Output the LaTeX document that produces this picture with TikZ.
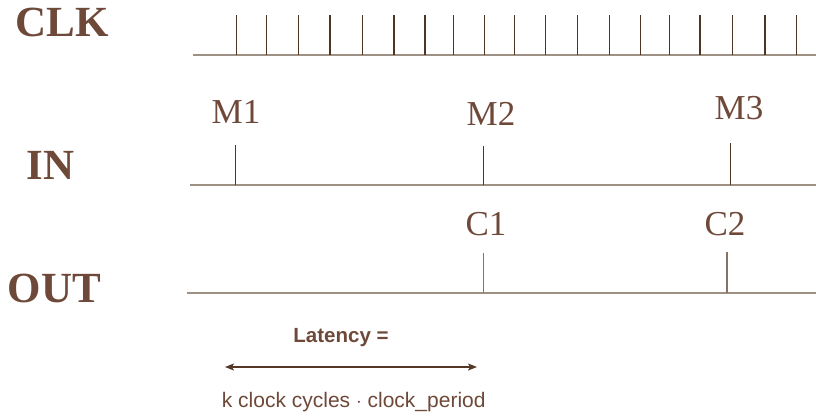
\documentclass[tikz,border=0pt]{standalone}
\usepackage{fontspec}
\setmainfont{Liberation Serif}
\newfontfamily\sansf{Liberation Sans}
\usetikzlibrary{arrows.meta}
\definecolor{txtbrown}{RGB}{110,72,56}
\definecolor{basecol}{RGB}{158,144,130}
\definecolor{tickdark}{RGB}{80,52,36}
\definecolor{tickgrey}{RGB}{135,115,100}
\definecolor{arrowcol}{RGB}{85,55,38}
\begin{document}
\begin{tikzpicture}[x=1pt,y=-1pt,
  siglabel/.style={anchor=base,inner sep=0pt,text=txtbrown,font=\bfseries\fontsize{43}{43}\selectfont},
  evlabel/.style={anchor=base,inner sep=0pt,text=txtbrown,font=\fontsize{35}{35}\selectfont},
  baseline line/.style={draw=basecol,line width=2pt},
  clktick/.style={draw=tickdark,line width=1.1pt},
  evtick/.style={draw=tickdark,line width=1pt},
  outtick/.style={draw=tickgrey,line width=1.2pt},
  lat/.style={anchor=base,inner sep=0pt,text=txtbrown,font=\sansf\bfseries\fontsize{20.5}{20.5}\selectfont},
  formula/.style={anchor=base,inner sep=0pt,text=txtbrown,font=\sansf\fontsize{21}{21}\selectfont}]
\useasboundingbox (0,0) rectangle (816,417);

% signal labels
\node[siglabel] (clk) at (62.5,37) {CLK};
\node[siglabel] (in) at (50.5,179) {IN};
\node[siglabel] (out) at (54.5,302) {OUT};

% CLK baseline and ticks
\coordinate (clkL) at (193,55);
\coordinate (clkR) at (816,55);
\draw[baseline line] (clkL) -- (clkR);
\foreach \x [count=\i] in {236.8,266.4,298.2,330,362.2,394,425,453.8,484.5,514.2,545.4,577.6,609.4,640.6,669.2,700,732.7,765,796.7}{
  \coordinate (ct\i) at (\x,15);
  \coordinate (cb\i) at (\x,55);
  \draw[clktick] (ct\i) -- (cb\i);
}

% IN line
\coordinate (inL) at (190,185);
\coordinate (inR) at (816,185);
\draw[baseline line] (inL) -- (inR);
\node[evlabel] (m1) at (236,124) {M1};
\node[evlabel] (m2) at (491,126) {M2};
\node[evlabel] (m3) at (739,120) {M3};
\coordinate (m1t) at (235,145); \coordinate (m1b) at (235,185);
\coordinate (m2t) at (483.5,146); \coordinate (m2b) at (483.5,185);
\coordinate (m3t) at (730.5,143); \coordinate (m3b) at (730.5,185);
\draw[evtick] (m1t) -- (m1b);
\draw[evtick] (m2t) -- (m2b);
\draw[evtick] (m3t) -- (m3b);

% OUT line
\coordinate (outL) at (187,293);
\coordinate (outR) at (816,293);
\draw[baseline line] (outL) -- (outR);
\node[evlabel] (c1) at (486,235) {C1};
\node[evlabel] (c2) at (725,235) {C2};
\coordinate (c1t) at (483.5,253); \coordinate (c1b) at (483.5,293);
\coordinate (c2t) at (727,252); \coordinate (c2b) at (727,293);
\draw[outtick] (c1t) -- (c1b);
\draw[outtick] (c2t) -- (c2b);

% latency
\node[lat] (latency) at (341,342) {Latency =};
\coordinate (aL) at (225,367);
\coordinate (aR) at (477,367);
\draw[arrowcol,line width=1.2pt,{Stealth[length=9pt,width=7pt,inset=2pt]}-{Stealth[length=9pt,width=7pt,inset=2pt]}] (aL) -- (aR);
\node[formula] (kform) at (353.7,407) {k clock cycles $\cdot$ clock\_period};
\end{tikzpicture}
\end{document}
